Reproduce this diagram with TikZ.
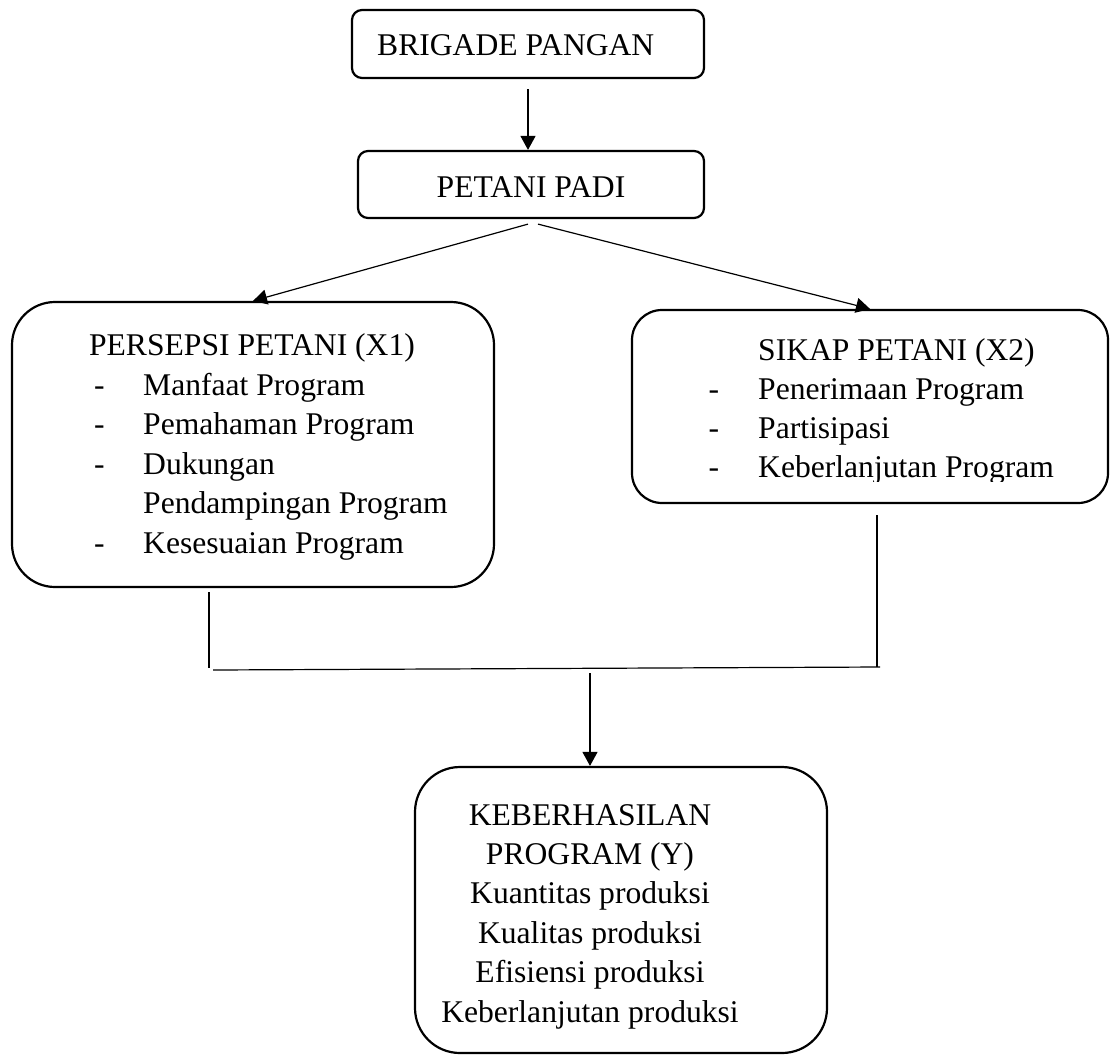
\documentclass[tikz,border=0pt]{standalone}
\usepackage{fontspec}
\setmainfont{Liberation Serif}
\usetikzlibrary{arrows.meta}
\begin{document}
\begin{tikzpicture}[x=1pt,y=-1pt,
  box/.style={draw, line width=2.2pt, inner sep=0pt},
  txt/.style={inner sep=0pt, font=\fontsize{31.6pt}{39pt}\selectfont},
  conn/.style={line width=1.2pt},
  arr/.style={conn, -{Triangle[length=14pt,width=15pt]}}
]
\useasboundingbox (0,0) rectangle (1110,1055);

% boxes
\node[box, rounded corners=10pt, minimum width=352pt, minimum height=68pt] (brig) at (528,44) {};
\node[box, rounded corners=10pt, minimum width=346pt, minimum height=67pt] (pet) at (531,184.5) {};
\node[box, rounded corners=43pt, minimum width=482pt, minimum height=285pt] (x1) at (253,444.5) {};
\node[box, rounded corners=30pt, minimum width=476pt, minimum height=193pt] (x2) at (870,406.5) {};
\node[box, rounded corners=45pt, minimum width=412pt, minimum height=286pt] (keb) at (621,910) {};

% texts
\node[txt, anchor=base west] (brigT) at (377,55.5) {BRIGADE PANGAN};
\node[txt, anchor=base] (petT) at (531,197.5) {PETANI PADI};

\node[txt, anchor=base] (x1T) at (252,355.5) {PERSEPSI PETANI (X1)};
\node[txt, anchor=base] (x1d1) at (99.5,395) {-};
\node[txt, anchor=base west] (x1a) at (143,395) {Manfaat Program};
\node[txt, anchor=base] (x1d2) at (99.5,434.5) {-};
\node[txt, anchor=base west] (x1b) at (143,434.5) {Pemahaman Program};
\node[txt, anchor=base] (x1d3) at (99.5,474) {-};
\node[txt, anchor=base west] (x1c) at (143,474) {Dukungan};
\node[txt, anchor=base west] (x1c2) at (143,513.5) {Pendampingan Program};
\node[txt, anchor=base] (x1d4) at (99.5,553) {-};
\node[txt, anchor=base west] (x1e) at (143,553) {Kesesuaian Program};

\node[txt, anchor=base west] (x2T) at (758,360) {SIKAP PETANI (X2)};
\node[txt, anchor=base] (x2d1) at (714,399) {-};
\node[txt, anchor=base west] (x2a) at (758,399) {Penerimaan Program};
\node[txt, anchor=base] (x2d2) at (714,438) {-};
\node[txt, anchor=base west] (x2b) at (758,438) {Partisipasi};
\node[txt, anchor=base] (x2d3) at (714,477) {-};
\begin{scope}
\clip (600,440) rectangle (1110,481);
\node[txt, anchor=base west] (x2c) at (758,477) {Keberlanjutan Program};
\end{scope}

\node[txt, anchor=base] (k1) at (590,825) {KEBERHASILAN};
\node[txt, anchor=base] (k2) at (590,864.4) {PROGRAM (Y)};
\node[txt, anchor=base] (k3) at (590,903.8) {Kuantitas produksi};
\node[txt, anchor=base] (k4) at (590,943.2) {Kualitas produksi};
\node[txt, anchor=base] (k5) at (590,982.6) {Efisiensi produksi};
\node[txt, anchor=base] (k6) at (590,1022) {Keberlanjutan produksi};

% connectors
\draw[arr] ([yshift=-10pt]brig.south) -- (brig.south |- pet.north);
\draw[arr] ([xshift=-3pt,yshift=-5pt]pet.south) -- (x1.north);
\draw[arr] ([xshift=7pt,yshift=-5pt]pet.south) -- (x2.north);

\coordinate (l1) at (209,592);
\coordinate (l2) at (209,668);
\coordinate (h1) at (213,670);
\coordinate (h2) at (880,667);
\coordinate (r1) at (877,515);
\coordinate (r2) at (877,667);
\coordinate (d1) at (590,673);
\draw[conn] (l1) -- (l2);
\draw[conn] (r1) -- (r2);
\draw[conn] (h1) -- (h2);
\draw[arr] (d1) -- (d1 |- keb.north);
\end{tikzpicture}
\end{document}
